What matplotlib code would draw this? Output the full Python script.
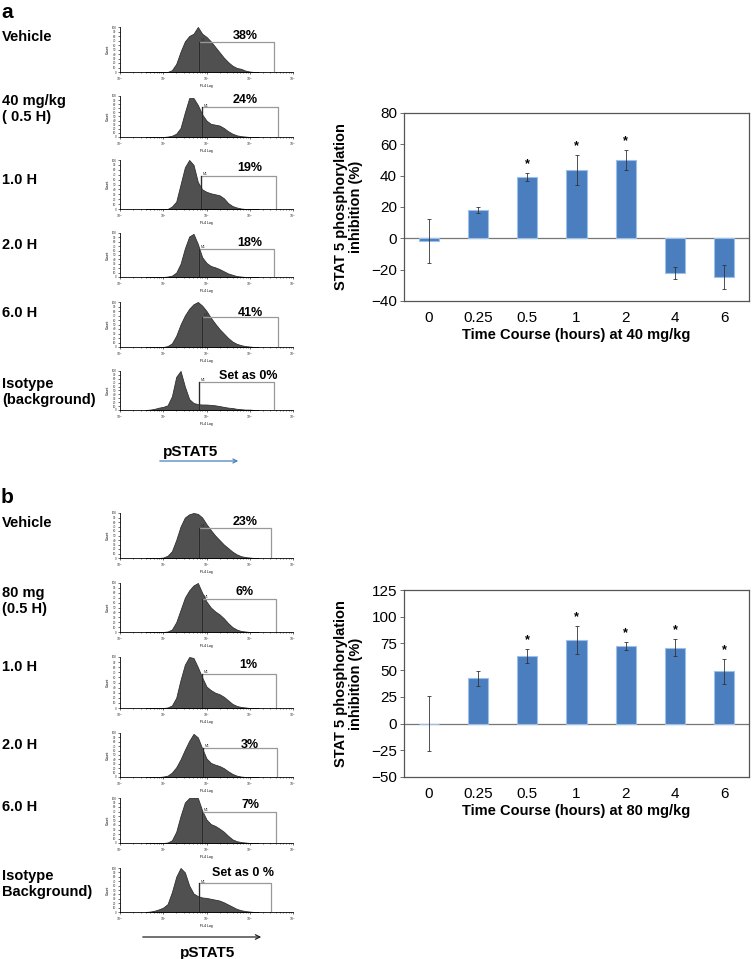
import numpy as np
import matplotlib.pyplot as plt
from matplotlib.patches import FancyArrowPatch

plt.rcParams['font.family'] = ['Liberation Sans', 'DejaVu Sans']

W, H = 752, 959

# ---- bar chart data ----
time_labels = ['0', '0.25', '0.5', '1', '2', '4', '6']
inhib_40 = [-1.5, 18.2, 39.3, 43.8, 50.0, -22.3, -24.8]
err_40 = [14.0, 2.0, 2.4, 9.5, 6.6, 3.7, 7.8]
star_40 = [False, False, True, True, True, False, False]
inhib_80 = [0.0, 42.4, 63.0, 78.2, 72.8, 71.0, 48.8]
err_80 = [25.5, 7.0, 6.5, 13.5, 3.5, 7.8, 12.0]
star_80 = [False, False, True, True, True, True, True]

# ---- flow histograms (counts in % of peak, sampled on log10 FL4 axis) ----
hist_x = np.round(np.arange(0.6, 3.25, 0.1), 1)
a_vehicle = [0, 0, 0, 0, 0, 0, 4, 18, 45, 68, 80, 85, 100, 85, 78, 68, 56, 44, 32, 22, 14, 9, 7, 3, 1, 0, 0]
a_40_05h = [0, 0, 0, 0, 0, 1, 3, 8, 22, 60, 95, 95, 78, 55, 40, 32, 30, 28, 22, 14, 8, 4, 2, 1, 0, 0, 0]
a_40_1h = [0, 0, 0, 0, 0, 0, 5, 15, 50, 85, 100, 90, 55, 40, 35, 32, 30, 28, 22, 12, 6, 3, 1, 0, 0, 0, 0]
a_40_2h = [0, 0, 0, 0, 0, 1, 3, 10, 30, 65, 92, 98, 75, 45, 32, 25, 22, 18, 13, 8, 5, 2, 1, 0, 0, 0, 0]
a_40_6h = [0, 0, 0, 0, 0, 2, 8, 25, 50, 70, 85, 95, 100, 92, 80, 65, 52, 40, 30, 20, 12, 7, 4, 2, 1, 0, 0]
a_iso = [0, 1, 3, 6, 8, 12, 35, 85, 100, 60, 28, 18, 15, 14, 14, 13, 12, 10, 8, 6, 5, 3, 2, 1, 1, 0, 0]
b_vehicle = [0, 0, 0, 0, 1, 5, 15, 40, 70, 90, 97, 100, 98, 90, 75, 62, 50, 40, 30, 22, 14, 8, 4, 2, 1, 0, 0]
b_80_05h = [0, 0, 0, 0, 0, 1, 5, 20, 45, 70, 85, 95, 100, 80, 62, 50, 42, 36, 28, 18, 10, 5, 2, 1, 0, 0, 0]
b_80_1h = [0, 0, 0, 0, 0, 1, 5, 20, 55, 85, 100, 98, 80, 60, 42, 35, 30, 27, 22, 15, 8, 4, 2, 1, 0, 0, 0]
b_80_2h = [0, 0, 0, 0, 1, 3, 10, 22, 40, 62, 82, 98, 90, 65, 42, 32, 28, 25, 20, 13, 7, 3, 1, 0, 0, 0, 0]
b_80_6h = [0, 0, 0, 0, 0, 1, 6, 25, 60, 90, 100, 100, 100, 72, 52, 42, 38, 32, 25, 16, 8, 4, 2, 1, 0, 0, 0]
b_iso = [0, 1, 3, 6, 10, 18, 45, 80, 100, 90, 60, 42, 36, 33, 32, 30, 28, 26, 22, 17, 12, 7, 4, 2, 1, 0, 0]

hists_a = [a_vehicle, a_40_05h, a_40_1h, a_40_2h, a_40_6h, a_iso]
hists_b = [b_vehicle, b_80_05h, b_80_1h, b_80_2h, b_80_6h, b_iso]
gates_a = [(1.83, 3.55, 66), (1.9, 3.65, 72), (1.88, 3.6, 67), (1.83, 3.55, 64), (1.9, 3.65, 67), (1.83, 3.55, 72)]
gates_b = [(1.83, 3.5, 67), (1.9, 3.6, 67), (1.9, 3.6, 66), (1.92, 3.63, 67), (1.9, 3.6, 70), (1.83, 3.5, 65)]
pct_a = ['38%', '24%', '19%', '18%', '41%', 'Set as 0%']
pct_b = ['23%', '6%', '1%', '3%', '7%', 'Set as 0 %']
rows_a = ['Vehicle', '40 mg/kg\n( 0.5 H)', '1.0 H', '2.0 H', '6.0 H', 'Isotype\n(background)']
rows_b = ['Vehicle', '80 mg\n(0.5 H)', '1.0 H', '2.0 H', '6.0 H', 'Isotype\nBackground)']

# pixel layout
hist_box_a = [(27, 72), (96, 137), (160, 209), (233, 277), (302, 347), (371, 410)]
hist_box_b = [(513, 558), (583, 632), (657, 708), (733, 777), (798, 843), (868, 912)]
pct_pos_a = [(245, 36), (245, 100), (250, 168), (250, 243), (250, 313), (248, 376)]
pct_pos_b = [(245, 522), (245, 592), (248, 665), (250, 745), (250, 805), (243, 873)]
row_y_a = [37, 109, 180, 245, 313, 392]
row_y_b = [523, 601, 667, 745, 807, 884]

fig = plt.figure(figsize=(W / 100, H / 100), dpi=100)


def px_axes(left, top, right, bottom):
    return fig.add_axes([left / W, 1 - bottom / H, (right - left) / W, (bottom - top) / H])


def ftext(x, y, s, **kw):
    fig.text(x / W, 1 - y / H, s, **kw)


def draw_hist(box, counts, gate):
    top, base = box
    ax = px_axes(120, top, 293, base)
    ax.fill_between(hist_x, counts, color='#505050', lw=0.6, edgecolor='#303030')
    g0, g1, gh = gate
    ax.plot([g0, g0, g1, g1], [0, gh, gh, 0], color='#999999', lw=0.9)
    ax.plot([g0, g0], [0, gh], color='#2a2a2a', lw=0.9)
    ax.text(g0 + 0.04, gh + 2, 'M1', fontsize=2.5, color='#333333')
    ax.set_xlim(0, 4)
    ax.set_ylim(0, 100)
    ax.set_xticks([0, 1, 2, 3, 4])
    ax.set_xticklabels(['10$^0$', '10$^1$', '10$^2$', '10$^3$', '10$^4$'], fontsize=2.5)
    ax.set_xticks([d + np.log10(k) for d in range(4) for k in range(2, 10)], minor=True)
    ax.set_yticks(np.linspace(0, 100, 11))
    ax.set_yticklabels([str(v) for v in range(0, 110, 10)], fontsize=2.2)
    ax.tick_params(length=1.5, width=0.5, pad=1, colors='#333333')
    ax.tick_params(which='minor', length=1, width=0.4)
    ax.set_xlabel('FL4 Log', fontsize=2.5, labelpad=1)
    ax.set_ylabel('Count', fontsize=2.5, labelpad=1)
    for side in ['top', 'right']:
        ax.spines[side].set_visible(False)
    for side in ['left', 'bottom']:
        ax.spines[side].set_linewidth(0.6)
    return ax


for i in range(6):
    draw_hist(hist_box_a[i], hists_a[i], gates_a[i])
    draw_hist(hist_box_b[i], hists_b[i], gates_b[i])
    ftext(*pct_pos_a[i], pct_a[i], fontsize=9, fontweight='bold', ha='center', va='center')
    ftext(*pct_pos_b[i], pct_b[i], fontsize=9, fontweight='bold', ha='center', va='center')
    ftext(2, row_y_a[i], rows_a[i], fontsize=10.5, fontweight='bold', ha='left', va='center', linespacing=1.15)
    ftext(2, row_y_b[i], rows_b[i], fontsize=10.5, fontweight='bold', ha='left', va='center', linespacing=1.15)

ftext(1, 12, 'a', fontsize=15, fontweight='bold', ha='left', va='center')
ftext(1, 497, 'b', fontsize=15, fontweight='bold', ha='left', va='center')

# pSTAT5 arrows
ftext(191, 452, 'pSTAT5', fontsize=11, fontweight='bold', ha='center', va='center')
fig.patches.append(FancyArrowPatch((157 / W, 1 - 461 / H), (241 / W, 1 - 461 / H), transform=fig.transFigure,
                                   arrowstyle='->', mutation_scale=7, color='#4a7ebf', lw=0.9))
ftext(208, 953, 'pSTAT5', fontsize=11, fontweight='bold', ha='center', va='center')
fig.patches.append(FancyArrowPatch((140 / W, 1 - 937 / H), (264 / W, 1 - 937 / H), transform=fig.transFigure,
                                   arrowstyle='->', mutation_scale=8, color='#222222', lw=0.9))


def draw_bars(ax, vals, errs, stars, ylim, yticks, xlabel):
    x = np.arange(len(time_labels))
    ax.bar(x, vals, width=0.41, color='#4a7ebf', edgecolor='#9cc0e8', linewidth=0.8, zorder=2)
    ax.errorbar(x, vals, yerr=errs, fmt='none', ecolor='#333333', elinewidth=0.6, capsize=1.5,
                capthick=0.6, zorder=3)
    ax.axhline(0, color='#777777', lw=0.9, zorder=1)
    for xi, v, e, s in zip(x, vals, errs, stars):
        if s:
            ax.annotate('*', (xi, v + e), xytext=(0, 2), textcoords='offset points', ha='center',
                        va='bottom', fontsize=9, fontweight='bold')
    ax.set_xlim(-0.5, len(time_labels) - 0.5)
    ax.set_ylim(*ylim)
    ax.set_yticks(yticks)
    ax.set_xticks(x)
    ax.set_xticklabels(time_labels)
    ax.tick_params(axis='x', length=0, labelsize=11, pad=7)
    ax.tick_params(axis='y', length=3, width=0.6, labelsize=11, pad=2, color='#555555')
    for sp in ax.spines.values():
        sp.set_color('#555555')
        sp.set_linewidth(0.9)
    ax.set_xlabel(xlabel, fontsize=10.5, fontweight='bold', labelpad=2)
    ax.set_ylabel('STAT 5 phosphorylation\ninhibition (%)', fontsize=10.5, fontweight='bold',
                  labelpad=6, linespacing=1.1)


ax_a = px_axes(404, 113, 749, 301)
draw_bars(ax_a, inhib_40, err_40, star_40, (-40, 80), range(-40, 81, 20), 'Time Course (hours) at 40 mg/kg')
ax_b = px_axes(404, 590, 749, 777)
draw_bars(ax_b, inhib_80, err_80, star_80, (-50, 125), range(-50, 126, 25), 'Time Course (hours) at 80 mg/kg')

fig.savefig('out.png', dpi=100)
